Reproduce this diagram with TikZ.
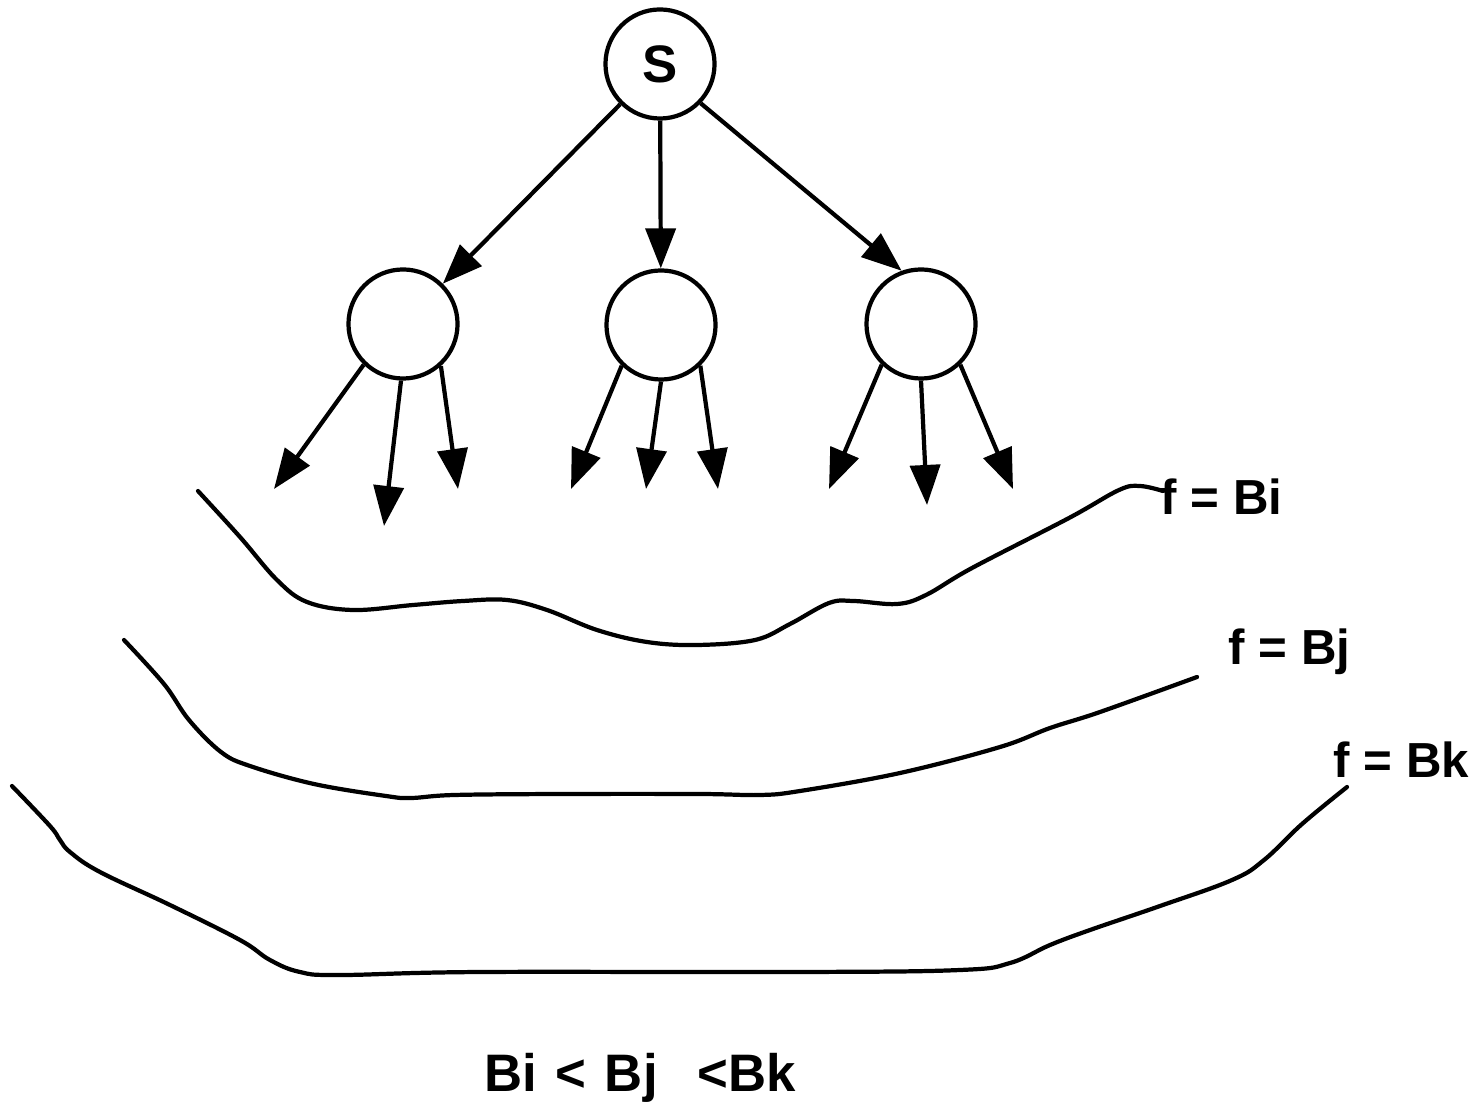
\documentclass[tikz,border=0pt]{standalone}
\usepackage{fontspec}
\setmainfont{Liberation Sans}
\usetikzlibrary{arrows.meta}
\begin{document}
\begin{tikzpicture}[x=0.01cm,y=-0.01cm,
  state/.style={circle,draw,line width=1.2pt,minimum size=1.09cm,inner sep=0pt,
    font=\fontsize{15}{17}\selectfont\bfseries},
  arr/.style={line width=1.2pt,-{Triangle[length=0.4cm,width=0.3cm]}},
  contour/.style={line width=1.2pt,line cap=round,line join=round},
  lbl/.style={font=\fontsize{14}{16}\selectfont\bfseries,inner sep=0pt,anchor=west}]
\useasboundingbox (0,0) rectangle (1483,1104);

% search tree
\node[state] (s)  at (660,64)  {S};
\node[state] (c1) at (403,324) {};
\node[state] (c2) at (661,325) {};
\node[state] (c3) at (921,324) {};

\draw[arr] (s) -- (c1);
\draw[arr] (s) -- (c2);
\draw[arr] (s.-44) -- (c3.110);

% open ends of the next level
\coordinate (t11) at (274,489);
\coordinate (t12) at (384,526);
\coordinate (t13) at (458,489);
\coordinate (t21) at (571,489);
\coordinate (t22) at (646,489);
\coordinate (t23) at (718,489);
\coordinate (t31) at (829,489);
\coordinate (t32) at (927,505);
\coordinate (t33) at (1013,489);

\draw[arr] (c1.226) -- (t11);
\draw[arr] (c1.268) -- (t12);
\draw[arr] (c1.312) -- (t13);
\draw[arr] (c2.226) -- (t21);
\draw[arr] (c2.270) -- (t22);
\draw[arr] (c2.314) -- (t23);
\draw[arr] (c3.226) -- (t31);
\draw[arr] (c3.270) -- (t32);
\draw[arr] (c3.314) -- (t33);

% contours of equal f
\draw[contour] plot[smooth,tension=0.6] coordinates {
  (198,491) (240,537) (277,580) (307,602) (353,610) (413,605) (463,601)
  (507,600) (547,610) (597,630) (647,642) (697,645) (755,640) (790,624)
  (829,603) (854,601) (897,604) (926,595) (972,568) (1069,518) (1119,490)
  (1140,486) (1163,491)};
\draw[contour] plot[smooth,tension=0.6] coordinates {
  (124,640) (164,684) (189,720) (221,752) (250,766) (314,784) (386,796)
  (411,798) (454,795) (560,794) (700,794) (760,795) (800,791) (900,773)
  (1000,747) (1050,728) (1100,712) (1197,677)};
\draw[contour] plot[smooth,tension=0.65] coordinates {
  (12,786) (50,826) (60,840) (70,852) (100,872) (170,905) (240,940)
  (270,960) (300,972) (340,975) (480,972) (800,972) (960,970) (1010,963)
  (1050,945) (1090,930) (1160,906) (1232,880) (1264,860) (1302,824)
  (1347,787)};

\node[lbl] (fi) at (1160,497) {f = Bi};
\node[lbl] (fj) at (1228,652) {f = Bj};
\node[lbl] (fk) at (1333,760) {f = Bk};

\node[lbl,anchor=center,font=\fontsize{15}{17}\selectfont\bfseries] (order) at (640,1078)
  {Bi\hspace{0.35em}<\hspace{0.35em}Bj\hspace{0.75em}<Bk};
\end{tikzpicture}
\end{document}
